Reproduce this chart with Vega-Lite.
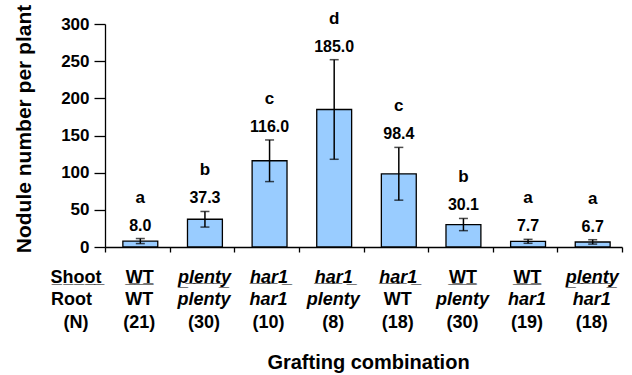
{
  "$schema": "https://vega.github.io/schema/vega-lite/v6.json",
  "autosize": "none",
  "width": 517,
  "height": 223,
  "padding": {"left": 105, "top": 24, "right": 10, "bottom": 128},
  "background": "white",
  "config": {
    "view": {"stroke": null},
    "font": "Liberation Sans",
    "axis": {"grid": false, "domainColor": "black", "tickColor": "black", "labelColor": "black", "titleColor": "black", "labelFont": "Liberation Sans", "titleFont": "Liberation Sans", "labelFontWeight": "bold", "titleFontWeight": "bold"}
  },
  "data": {
    "values": [
      {"combo": "WT|WT|21", "mean": 8.0, "lo": 4.6, "hi": 11.4, "group": "a"},
      {"combo": "plenty|plenty|30", "mean": 37.3, "lo": 26.8, "hi": 47.8, "group": "b"},
      {"combo": "har1|har1|10", "mean": 116.0, "lo": 88, "hi": 144, "group": "c"},
      {"combo": "har1|plenty|8", "mean": 185.0, "lo": 118, "hi": 252, "group": "d"},
      {"combo": "har1|WT|18", "mean": 98.4, "lo": 63, "hi": 134, "group": "c"},
      {"combo": "WT|plenty|30", "mean": 30.1, "lo": 22, "hi": 38.4, "group": "b"},
      {"combo": "WT|har1|19", "mean": 7.7, "lo": 5.0, "hi": 10.3, "group": "a"},
      {"combo": "plenty|har1|18", "mean": 6.7, "lo": 3.9, "hi": 9.8, "group": "a"}
    ]
  },
  "resolve": {"axis": {"x": "independent", "y": "independent"}},
  "layer": [
    {
      "mark": {"type": "bar", "fill": "#99CCFF", "stroke": "black", "strokeWidth": 1.3, "width": {"band": 0.54}, "xOffset": 3},
      "encoding": {
        "x": {"field": "combo", "type": "nominal", "sort": null,
          "scale": {"paddingInner": 0, "paddingOuter": 0},
          "axis": {"orient": "bottom", "domain": true, "domainWidth": 1.3, "ticks": true, "tickBand": "extent", "tickSize": 5, "tickWidth": 1.3,
            "labelAngle": 0, "labelBaseline": "middle", "labelPadding": 25, "labelOffset": 2, "labelFontSize": 18,
            "labelExpr": "datum.value ? replace(split(datum.value,'|')[0], /(.)/g, '$1\u0332') : ''",
            "labelFontStyle": {"condition": {"test": "datum.value && split(datum.value,'|')[0] != 'WT'", "value": "italic"}, "value": "normal"},
            "title": "S\u0332h\u0332o\u0332o\u0332t\u0332", "titleFontSize": 18, "titleAngle": 0, "titleAlign": "center", "titleBaseline": "middle", "titleX": -29.5, "titleY": 30.4}},
        "y": {"field": "mean", "type": "quantitative",
          "scale": {"domain": [0, 300], "nice": false},
          "axis": {"orient": "left", "values": [0, 50, 100, 150, 200, 250, 300], "domainWidth": 1.3, "tickWidth": 1.3, "tickSize": 11, "labelPadding": 5, "labelFontSize": 17,
            "title": "Nodule number per plant", "titleFontSize": 21, "titleAngle": 270, "titleAlign": "center", "titleBaseline": "middle", "titleX": -81, "titleY": 104.5}}
      }
    },
    {
      "mark": {"type": "rule", "color": "black", "strokeWidth": 1.5, "xOffset": 3},
      "encoding": {
        "x": {"field": "combo", "type": "nominal", "sort": null,
          "axis": {"orient": "bottom", "domain": false, "ticks": false,
            "labelAngle": 0, "labelBaseline": "middle", "labelPadding": 52.7, "labelOffset": 2, "labelFontSize": 18,
            "labelExpr": "datum.value ? split(datum.value,'|')[1] : ''",
            "labelFontStyle": {"condition": {"test": "datum.value && split(datum.value,'|')[1] != 'WT'", "value": "italic"}, "value": "normal"},
            "title": "Root", "titleFontSize": 18, "titleAngle": 0, "titleAlign": "center", "titleBaseline": "middle", "titleX": -34, "titleY": 52.7}},
        "y": {"field": "lo", "type": "quantitative", "axis": null},
        "y2": {"field": "hi"}
      }
    },
    {
      "mark": {"type": "tick", "color": "black", "thickness": 1.5, "size": 9, "xOffset": 3},
      "encoding": {
        "x": {"field": "combo", "type": "nominal", "sort": null,
          "axis": {"orient": "bottom", "domain": false, "ticks": false,
            "labelAngle": 0, "labelBaseline": "middle", "labelPadding": 75.7, "labelOffset": 2, "labelFontSize": 18,
            "labelExpr": "datum.value ? '(' + split(datum.value,'|')[2] + ')' : ''",
            "title": "(N)", "titleFontSize": 18, "titleAngle": 0, "titleAlign": "center", "titleBaseline": "middle", "titleX": -29.5, "titleY": 75.7}},
        "y": {"field": "hi", "type": "quantitative", "axis": null}
      }
    },
    {
      "mark": {"type": "tick", "color": "black", "thickness": 1.5, "size": 9, "xOffset": 3},
      "encoding": {
        "x": {"field": "combo", "type": "nominal", "sort": null,
          "axis": {"orient": "bottom", "domain": false, "ticks": false, "labels": false,
            "title": "Grafting combination", "titleFontSize": 20, "titleAngle": 0, "titleAlign": "center", "titleBaseline": "middle", "titleX": 263, "titleY": 115.4}},
        "y": {"field": "lo", "type": "quantitative", "axis": null}
      }
    },
    {
      "mark": {"type": "text", "fontSize": 16, "fontWeight": "bold", "color": "black", "baseline": "alphabetic", "dy": -8, "xOffset": 3},
      "encoding": {
        "x": {"field": "combo", "type": "nominal", "sort": null,
          "axis": {"orient": "bottom", "domain": false, "ticks": false, "title": null,
            "labelAngle": 0, "labelBaseline": "middle", "labelPadding": 30, "labelOffset": 2, "labelFontSize": 17,
            "labelExpr": "datum.value && split(datum.value,'|')[0] == 'WT' ? '___' : ''"}},
        "y": {"field": "hi", "type": "quantitative", "axis": null},
        "text": {"field": "mean", "type": "quantitative", "format": ".1f"}
      }
    },
    {
      "mark": {"type": "text", "fontSize": 17, "fontWeight": "bold", "color": "black", "baseline": "alphabetic", "dy": -36, "xOffset": 3},
      "encoding": {
        "x": {"field": "combo", "type": "nominal", "sort": null, "axis": null},
        "y": {"field": "hi", "type": "quantitative", "axis": null},
        "text": {"field": "group", "type": "nominal"}
      }
    }
  ]
}
